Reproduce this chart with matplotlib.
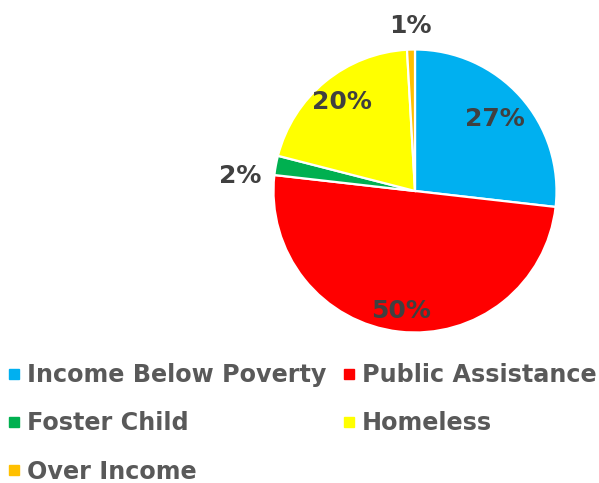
import numpy as np
import matplotlib.pyplot as plt
from matplotlib.lines import Line2D

categories = ["Income Below Poverty", "Public Assistance", "Foster Child", "Homeless", "Over Income"]
shares = [26.8, 50.0, 2.2, 20.1, 0.9]
colors = ["#00B0F0", "#FF0000", "#00B050", "#FFFF00", "#FFC000"]
# label placement per slice: radial distance (fraction of radius), angle nudge in degrees
label_dist = [0.76, 0.85, 1.24, 0.81, 1.17]
label_nudge = [0, 0, 5.5, 0, 0]

fig = plt.figure(figsize=(5.99, 4.83), dpi=100)
cx, cy, r = 415, 191, 141.5
ax = fig.add_axes([(cx - r) / 599, (483 - cy - r) / 483, 2 * r / 599, 2 * r / 483])

wedges, _ = ax.pie(shares, colors=colors, startangle=90, counterclock=False,
                   wedgeprops=dict(edgecolor="white", linewidth=1.6))
ax.set_xlim(-1, 1)
ax.set_ylim(-1, 1)
ax.set_aspect("equal")

total = sum(shares)
for w, v, d, n in zip(wedges, shares, label_dist, label_nudge):
    ang = np.deg2rad((w.theta1 + w.theta2) / 2 + n)
    ax.text(d * np.cos(ang), d * np.sin(ang), f"{v / total * 100:.0f}%",
            ha="center", va="center", fontsize=18, fontweight="bold",
            color="#404040", clip_on=False)

# legend, filled column-wise so rows read left to right
order = [0, 2, 4, 1, 3]
handles = [Line2D([], [], marker="s", linestyle="none", markersize=6.5,
                  markerfacecolor=colors[i], markeredgecolor=colors[i]) for i in order]
labels = [categories[i] for i in order]
fig.legend(handles, labels, ncol=2, loc="upper left", bbox_to_anchor=(-0.004, 0.268),
           frameon=False, prop=dict(weight="bold", size=17.2),
           handlelength=0.6, handletextpad=0.23, columnspacing=0.66,
           labelspacing=1.02, borderaxespad=0, labelcolor="#595959")

fig.savefig("out.png", dpi=100)
